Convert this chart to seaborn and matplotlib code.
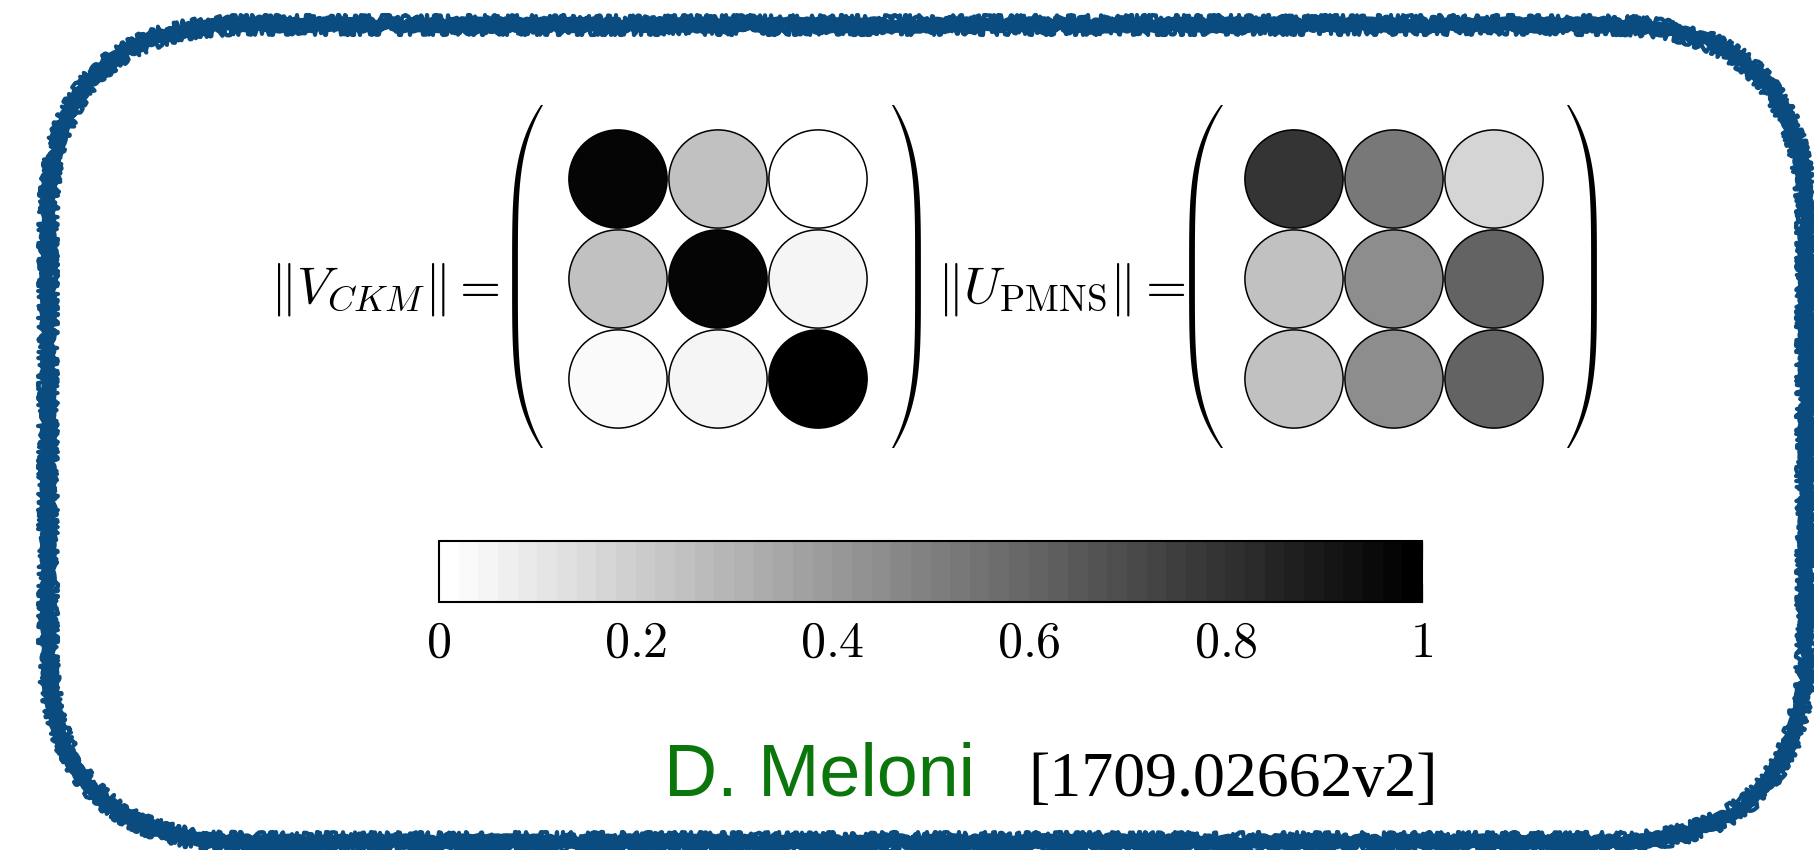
import numpy as np
import pandas as pd
import matplotlib
matplotlib.use('Agg')
import matplotlib.pyplot as plt
import seaborn as sns
from matplotlib.patches import FancyBboxPatch, Polygon
from matplotlib.cm import ScalarMappable
from matplotlib.colors import Normalize

# matrix magnitudes
rows = [0, 1, 2]
cols = [0, 1, 2]
ckm_vals = [[0.97, 0.25, 0.00],
            [0.25, 0.97, 0.05],
            [0.02, 0.04, 1.00]]
pmns_vals = [[0.79, 0.53, 0.16],
             [0.24, 0.45, 0.61],
             [0.25, 0.45, 0.61]]
cbar_ticks = [0, 0.2, 0.4, 0.6, 0.8, 1]
cbar_labels = ['0', '0.2', '0.4', '0.6', '0.8', '1']

W, H = 1814, 850
sns.set_style('white')
plt.rcParams['mathtext.fontset'] = 'cm'
plt.rcParams['font.family'] = ['DejaVu Sans']
plt.rcParams['text.color'] = 'black'
plt.rcParams['xtick.color'] = 'black'
plt.rcParams['xtick.labelcolor'] = 'black'

cmap = plt.get_cmap('gray_r').resampled(50)
norm = Normalize(0, 1)


def to_frame(vals):
    return pd.DataFrame([{'row': r, 'col': c, 'value': vals[r][c]}
                         for r in rows for c in cols])


def paren(ax, x_tip, x_mid, y0, y1):
    t = np.linspace(-1, 1, 300)
    y = (y0 + y1) / 2 + t * (y1 - y0) / 2
    bend = 1 - np.abs(t) ** 4
    c = x_tip + (x_mid - x_tip) * bend
    h = 1.0 + 1.9 * bend
    s = np.sign(x_mid - x_tip)
    pts = np.vstack([np.column_stack([c + s * h, y]),
                     np.column_stack([(c - s * h)[::-1], y[::-1]])])
    ax.add_patch(Polygon(pts, closed=True, fc='black', ec='none'))


fig = plt.figure(figsize=(W / 100, H / 100), dpi=100)

# full-figure canvas in pixel units for frame, brackets and text
bg = fig.add_axes([0, 0, 1, 1])
bg.set_xlim(0, W)
bg.set_ylim(H, 0)
bg.axis('off')

blue = '#0a4c80'
for lw, sk, off in [(9, (2.5, 20, 30), 0), (3, (5, 8, 60), 5), (3, (5, 8, 60), -5)]:
    frame = FancyBboxPatch((48 + off, 25 + off), 1758 - 2 * off, 817 - 2 * off,
                           boxstyle='round,pad=0,rounding_size=%d' % (195 - off),
                           fc='none', ec=blue, lw=lw, capstyle='round', joinstyle='round')
    frame.set_sketch_params(*sk)
    bg.add_patch(frame)

# matrices
for vals, left in [(ckm_vals, 568), (pmns_vals, 1244)]:
    ax = fig.add_axes([left / W, 1 - 429 / H, 300 / W, 300 / H])
    ax.set_facecolor('none')
    sns.scatterplot(data=to_frame(vals), x='col', y='row', hue='value',
                    palette=cmap, hue_norm=(0, 1), s=5000, marker='o',
                    edgecolor='black', linewidth=1.1, legend=False, ax=ax)
    ax.set_xlim(-0.5, 2.5)
    ax.set_ylim(2.5, -0.5)
    ax.axis('off')

paren(bg, 542, 515, 105, 448)
paren(bg, 893, 918, 105, 448)
paren(bg, 1222, 1192, 105, 448)
paren(bg, 1568, 1594, 105, 448)

bg.text(500, 303, r'$\Vert V_{CKM}\Vert =$', fontsize=38, color='black',
        ha='right', va='baseline')
bg.text(1186, 303, r'$\Vert U_{\mathrm{PMNS}}\Vert =$', fontsize=38, color='black',
        ha='right', va='baseline')

# colour bar
cax = fig.add_axes([439 / W, 1 - 602 / H, (1422 - 439) / W, 61 / H])
cb = fig.colorbar(ScalarMappable(norm=norm, cmap=cmap), cax=cax, orientation='horizontal')
cb.set_ticks(cbar_ticks)
cb.set_ticklabels(['$%s$' % s for s in cbar_labels])
cb.outline.set_linewidth(1.5)
cb.outline.set_edgecolor('black')
cax.tick_params(axis='x', direction='in', length=13, width=1, color='#777777',
                labelcolor='black', top=True, bottom=True, labeltop=False,
                labelsize=36, pad=12)

bg.text(664, 796, 'D. Meloni', fontsize=53, color='#0b760b',
        family=['Liberation Sans'], ha='left', va='baseline')
bg.text(1028, 796, '[1709.02662v2]', fontsize=46, color='black',
        family=['Liberation Serif'], ha='left', va='baseline')

fig.savefig('out.png', dpi=100)
